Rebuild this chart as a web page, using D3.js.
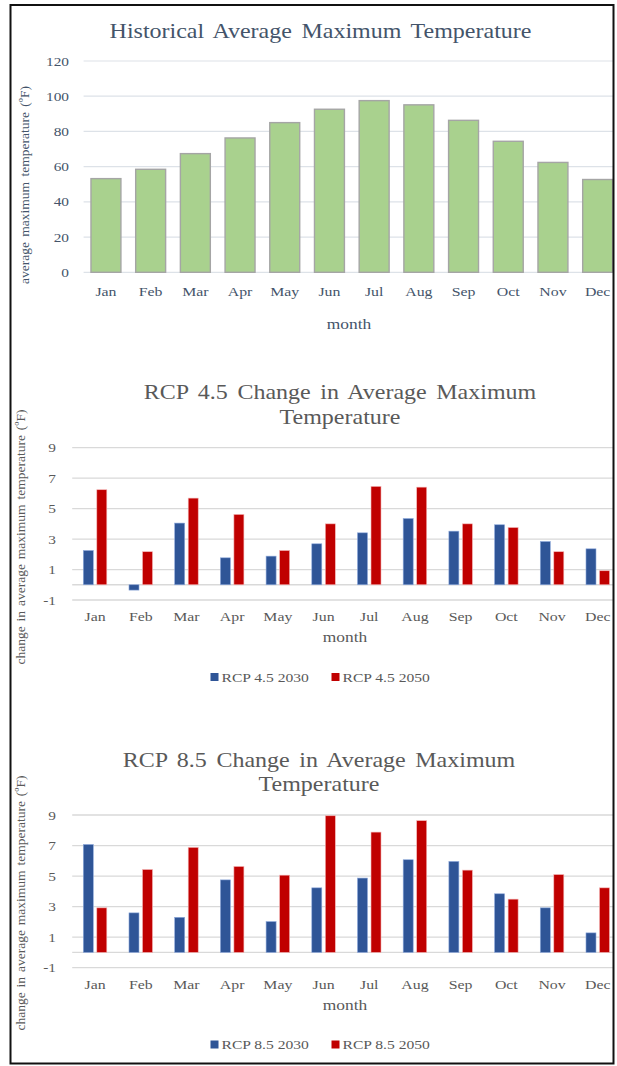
<!DOCTYPE html>
<html>
<head>
<meta charset="utf-8">
<script src="https://cdn.jsdelivr.net/npm/d3@7"></script>
<style>
  html, body { margin: 0; padding: 0; background: #fff; }
  svg { display: block; }
</style>
</head>
<body>
<svg id="chart" width="617" height="1066"></svg>
<script>
// ---------------- DATA ----------------
const months = ["Jan","Feb","Mar","Apr","May","Jun","Jul","Aug","Sep","Oct","Nov","Dec"];
const histMax = [53.2, 58.5, 67.4, 76.3, 85.0, 92.6, 97.5, 95.1, 86.3, 74.4, 62.4, 52.7];
const histTicks = [0, 20, 40, 60, 80, 100, 120];

const rcp45_2030 = [2.25, -0.35, 4.05, 1.77, 1.88, 2.69, 3.41, 4.35, 3.52, 3.94, 2.84, 2.36];
const rcp45_2050 = [6.24, 2.17, 5.69, 4.62, 2.25, 4.00, 6.46, 6.41, 4.00, 3.76, 2.17, 0.92];
const rcp85_2030 = [7.07, 2.59, 2.30, 4.75, 2.02, 4.23, 4.87, 6.07, 5.96, 3.84, 2.92, 1.28];
const rcp85_2050 = [2.92, 5.43, 6.88, 5.63, 5.06, 8.95, 7.88, 8.63, 5.39, 3.49, 5.10, 4.23];
const changeTicks = [-1, 1, 3, 5, 7, 9];

const seriesNames45 = ["RCP 4.5 2030", "RCP 4.5 2050"];
const seriesNames85 = ["RCP 8.5 2030", "RCP 8.5 2050"];
const seriesColors = ["#2f5597", "#c00000"];
const seriesStrokes = ["#8faadc", "#f4b6b6"];

// ---------------- SETUP ----------------
const FONT = "'Liberation Serif', 'Times New Roman', serif";
const SX = 1.2; // horizontal stretch of the reference text
const svg = d3.select("#chart");

svg.append("defs").append("clipPath").attr("id", "frameClip")
  .append("rect").attr("x", 11).attr("y", 6).attr("width", 602).attr("height", 1057);

const root = svg.append("g").attr("clip-path", "url(#frameClip)");

function txt(g, x, y, str, o) {
  o = o || {};
  const t = g.append("text")
    .attr("transform", `translate(${x},${y}) rotate(${o.rot || 0}) scale(${o.sx == null ? SX : o.sx},1)`)
    .attr("text-anchor", o.anchor || "middle")
    .attr("dominant-baseline", "central")
    .attr("font-family", FONT)
    .attr("font-size", o.size || 13)
    .attr("fill", o.color || "#595959")
    .text(str);
  if (o.ws) t.attr("word-spacing", o.ws);
  return t;
}

// ---------------- CHART 1: historical ----------------
(function () {
  const g = root.append("g");
  const col = "#44546a";
  const y = d3.scaleLinear().domain([0, 120]).range([272.3, 61]);
  const x = d3.scaleBand().domain(months).range([83.6, 620]).paddingInner(0.33).paddingOuter(0.165);
  const left = 83.6, right = 614;

  g.selectAll(".grid").data(histTicks).join("line")
    .attr("x1", left).attr("x2", right)
    .attr("y1", d => y(d)).attr("y2", d => y(d))
    .attr("stroke", "#dde2e8").attr("stroke-width", 1.2);

  histTicks.forEach(t => txt(g, 69, y(t), String(t), {anchor: "end", size: 12.8, color: col}));

  g.selectAll(".bar").data(histMax).join("rect")
    .attr("x", (d, i) => x(months[i]))
    .attr("width", x.bandwidth())
    .attr("y", d => y(d))
    .attr("height", d => y(0) - y(d))
    .attr("fill", "#a9d18e")
    .attr("stroke", "#a5a5a5")
    .attr("stroke-width", 1.4);

  months.forEach(m => txt(g, x(m) + x.bandwidth() / 2, 291, m, {size: 13.2, color: col}));

  txt(g, 320.5, 31, "Historical Average Maximum Temperature", {size: 20, color: col, ws: 3});
  txt(g, 349, 324, "month", {size: 14.5, color: col});
  txt(g, 24, 185, "average maximum temperature (ºF)", {size: 13.5, color: col, rot: -90, sx: 1, ws: 2});
})();

// ---------------- CHARTS 2 & 3: change ----------------
function changeChart(cfg) {
  const g = root.append("g");
  const col = "#595959";
  const y = d3.scaleLinear().domain([-1, 9]).range([cfg.yMinus1, cfg.y9]);
  const x0 = d3.scaleBand().domain(months).range([72.2, 620.6]).padding(0);
  const x1 = d3.scaleBand().domain([0, 1]).range([0, x0.bandwidth()]).paddingInner(0.26).paddingOuter(0.82);
  const left = 72.2, right = 614;

  const gl = changeTicks.concat([0]);
  g.selectAll(".grid").data(gl).join("line")
    .attr("x1", left).attr("x2", right)
    .attr("y1", d => y(d)).attr("y2", d => y(d))
    .attr("stroke", "#d9d9d9").attr("stroke-width", 1.3);

  changeTicks.forEach(t => txt(g, 56, y(t), String(t), {anchor: "end", size: 12.8, color: col}));

  const series = [cfg.a, cfg.b];
  series.forEach((vals, s) => {
    g.selectAll(".bar" + s).data(vals).join("rect")
      .attr("x", (d, i) => x0(months[i]) + x1(s))
      .attr("width", x1.bandwidth())
      .attr("y", d => y(Math.max(0, d)))
      .attr("height", d => Math.abs(y(0) - y(d)))
      .attr("fill", seriesColors[s])
      .attr("stroke", seriesStrokes[s])
      .attr("stroke-width", 0.6);
  });

  months.forEach(m => txt(g, x0(m) + x0.bandwidth() / 2, cfg.monthY, m, {size: 13.2, color: col}));

  txt(g, cfg.titleX, cfg.t1, cfg.title1, {size: 20, color: col, ws: 3});
  txt(g, cfg.titleX, cfg.t2, "Temperature", {size: 20, color: col});
  txt(g, 345, cfg.axisY, "month", {size: 14.5, color: col});
  txt(g, 20, cfg.ylabY, "change in average maximum temperature (ºF)", {size: 13.5, color: col, rot: -90, sx: 1, ws: 1.5});

  // legend
  const lx = [210.5, 331.5];
  cfg.names.forEach((n, s) => {
    g.append("rect").attr("x", lx[s]).attr("y", cfg.legY - 4).attr("width", 8).attr("height", 8)
      .attr("fill", seriesColors[s]);
    txt(g, lx[s] + 11, cfg.legY, n, {anchor: "start", size: 13, color: col});
  });
}

changeChart({
  a: rcp45_2030, b: rcp45_2050, names: seriesNames45,
  y9: 447.7, yMinus1: 600,
  title1: "RCP 4.5 Change in Average Maximum", titleX: 340, t1: 392.5, t2: 417,
  monthY: 616.5, axisY: 637, legY: 677, ylabY: 537
});

changeChart({
  a: rcp85_2030, b: rcp85_2050, names: seriesNames85,
  y9: 815, yMinus1: 967.7,
  title1: "RCP 8.5 Change in Average Maximum", titleX: 319, t1: 760, t2: 784.5,
  monthY: 984, axisY: 1005, legY: 1044.5, ylabY: 903
});

// ---------------- FRAME ----------------
svg.append("rect").attr("x", 10.5).attr("y", 5).attr("width", 603).attr("height", 1058.5)
  .attr("fill", "none").attr("stroke", "#111").attr("stroke-width", 2);
</script>
</body>
</html>
